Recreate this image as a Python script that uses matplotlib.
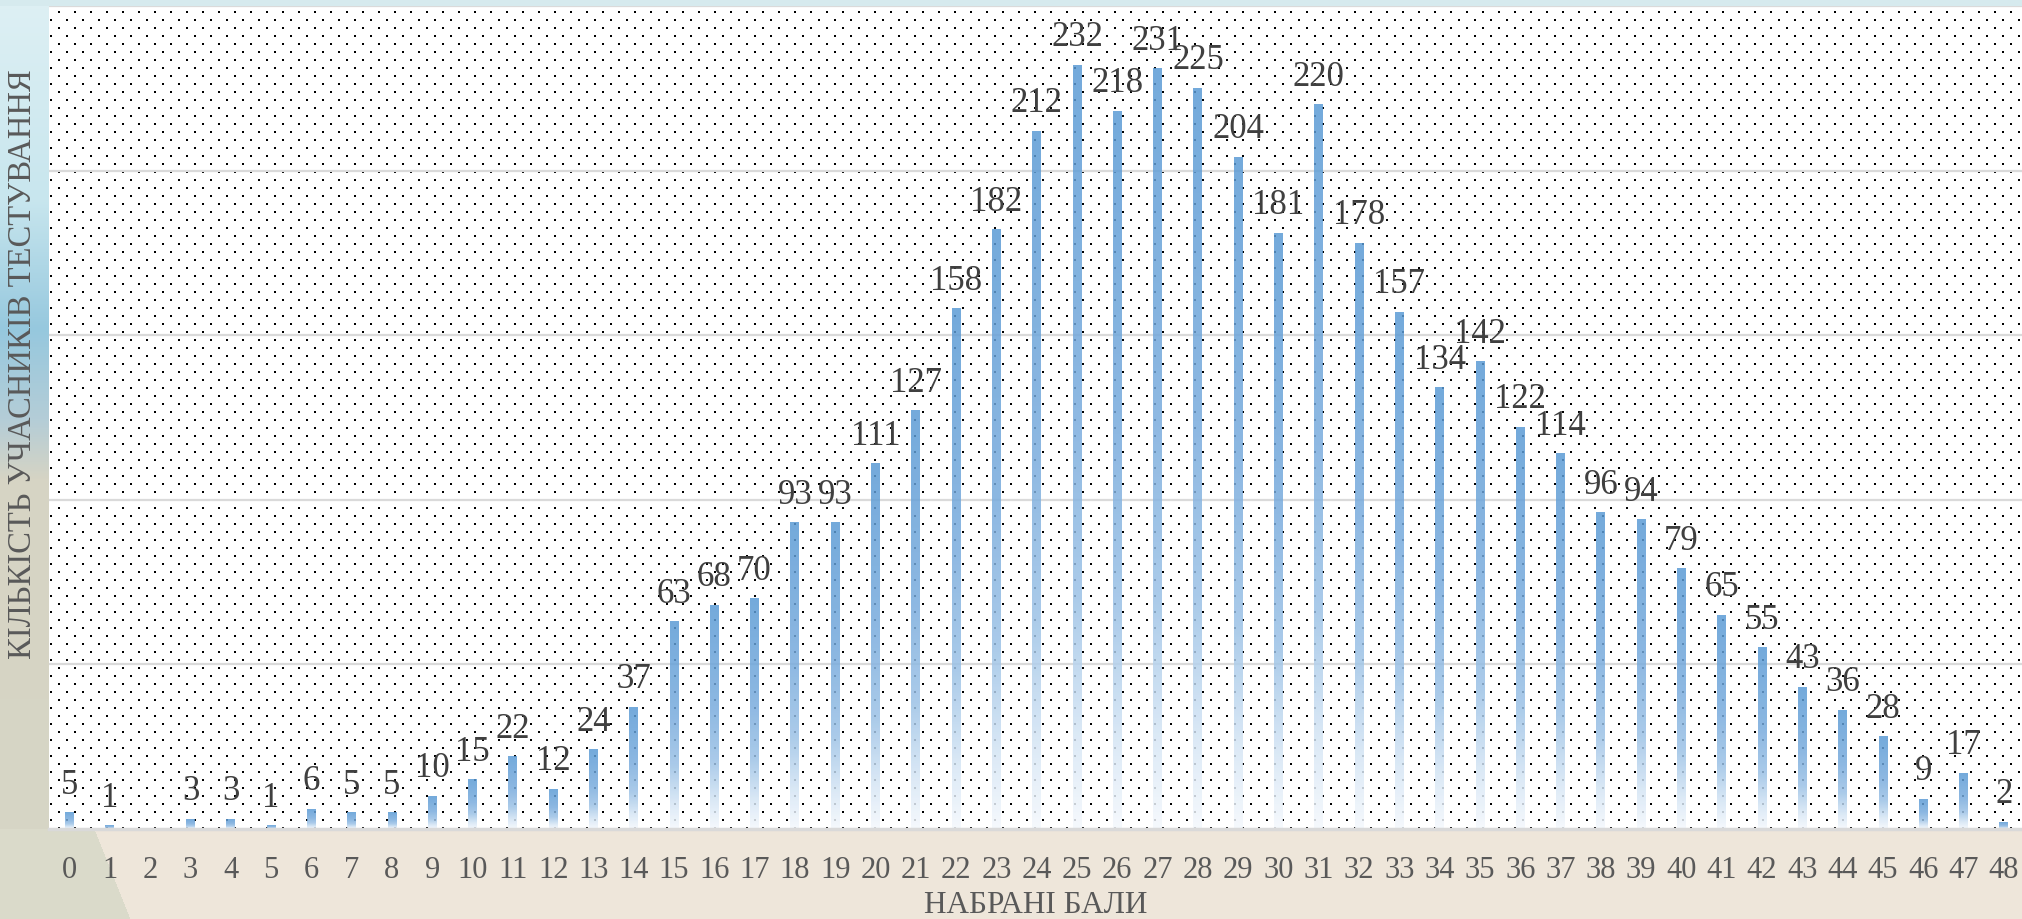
import numpy as np
import matplotlib
matplotlib.use("Agg")
import matplotlib.pyplot as plt
from matplotlib.colors import LinearSegmentedColormap

plt.rcParams['font.family'] = ['Liberation Serif', 'DejaVu Serif']

# дані
scores = list(range(49))
counts = [5, 1, 0, 3, 3, 1, 6, 5, 5, 10, 15, 22, 12, 24, 37, 63, 68, 70, 93, 93,
          111, 127, 158, 182, 212, 232, 218, 231, 225, 204, 181, 220, 178, 157,
          134, 142, 122, 114, 96, 94, 79, 65, 55, 43, 36, 28, 9, 17, 2]
x_title = "НАБРАНІ БАЛИ"
y_title = "КІЛЬКІСТЬ УЧАСНИКІВ ТЕСТУВАННЯ"

W, H = 2022, 920
fig = plt.figure(figsize=(W / 100, H / 100), dpi=100)

# фон слайда (приблизно)
bg = np.zeros((H, W, 3))
bg[:] = np.array([238, 230, 218]) / 255
yy = np.arange(H)
left_r = np.interp(yy, [0, 200, 330, 420, 480, 920], [222, 200, 150, 180, 214, 214])
left_g = np.interp(yy, [0, 200, 330, 420, 480, 920], [240, 230, 200, 205, 212, 214])
left_b = np.interp(yy, [0, 200, 330, 420, 480, 920], [244, 238, 222, 215, 196, 198])
bg[:, :49, 0] = left_r[:, None] / 255
bg[:, :49, 1] = left_g[:, None] / 255
bg[:, :49, 2] = left_b[:, None] / 255
bg[:7, :, :] = np.array([214, 234, 238]) / 255
for y in range(830, H):
    edge = 95 + (y - 830) * 0.4
    bg[y, :int(edge), :] = np.array([218, 218, 202]) / 255
bgax = fig.add_axes([0, 0, 1, 1], zorder=-10)
bgax.imshow(bg, aspect='auto', interpolation='bilinear')
bgax.axis('off')

# область графіка
left_px, bottom_px, top_px = 49, 830, 7
ax = fig.add_axes([left_px / W, (H - bottom_px) / H, (W - left_px) / W, (bottom_px - top_px) / H])
ax.set_facecolor('white')

# крапковий візерунок
pw, ph = W - left_px, bottom_px - top_px
dots = np.ones((ph, pw, 4))
for k, r in enumerate(range(5, ph, 8)):
    off = 9 if k % 2 == 0 else 1
    for c in range(off, pw, 16):
        dots[r:r + 2, c:c + 2, :3] = 0.0
ax.imshow(dots, extent=[0, 1, 0, 1], transform=ax.transAxes, aspect='auto',
          interpolation='none', zorder=0)

# сітка
for g in [50, 100, 150, 200, 250]:
    ax.axhline(g, color='#dadada', lw=1.6, zorder=1)

# стовпчики з градієнтом
bars = ax.bar(scores, counts, width=0.22, color='none', edgecolor='none', zorder=2)
cmap = LinearSegmentedColormap.from_list('grad', [
    (0.0, '#f4f8fd'), (0.12, '#d6e6f5'), (0.3, '#9cc2e6'),
    (0.55, '#78abdd'), (1.0, '#5b9bd5')])
grad = cmap(np.linspace(0, 1, 256))[::-1][:, None, :].copy()
grad[..., 3] = 0.85
for b in bars:
    h = b.get_height()
    if h <= 0:
        continue
    x0 = b.get_x()
    ax.imshow(grad, extent=[x0, x0 + b.get_width(), 0, h], aspect='auto',
              interpolation='bilinear', zorder=2)

# підписи значень
for s, v in zip(scores, counts):
    if v == 0:
        continue
    ax.annotate(str(v), (s, v), xytext=(0, 14.4), textcoords='offset points',
                ha='center', va='baseline', fontsize=25, color='#404040', zorder=4)

ax.set_xlim(-0.51, 48.45)
ax.set_ylim(0, 250)
ax.set_aspect('auto')
ax.set_xticks(scores)
ax.set_xticklabels([str(s) for s in scores])
ax.set_yticks([])
ax.tick_params(axis='x', length=0, pad=19, labelsize=22, labelcolor='#595959')
for sp in ['top', 'right', 'left']:
    ax.spines[sp].set_visible(False)
ax.spines['bottom'].set_color('#d9d9d9')
ax.spines['bottom'].set_linewidth(2.5)
ax.spines['bottom'].set_zorder(3)

fig.text(1036 / W, 1 - 906 / H, x_title, ha='center', va='center', fontsize=22.5, color='#595959')
fig.text(23 / W, 1 - 364 / H, y_title, ha='center', va='center', rotation=90,
         fontsize=23.5, color='#595959')

fig.savefig('out.png', dpi=100)
